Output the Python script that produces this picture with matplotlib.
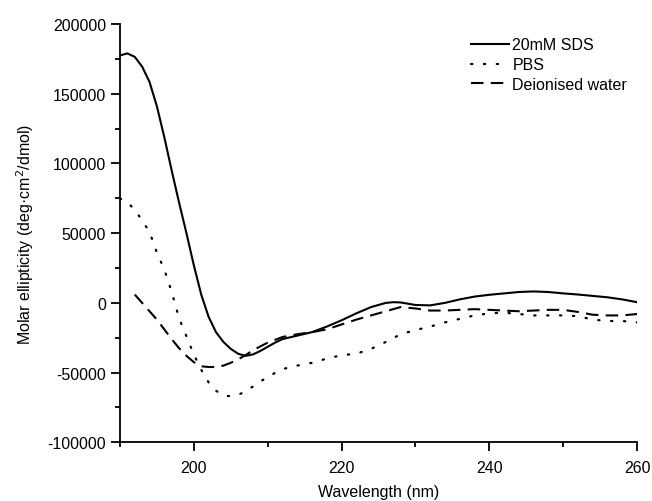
import matplotlib
matplotlib.use('Agg')
import matplotlib.pyplot as plt
from matplotlib.ticker import MultipleLocator

plt.rcParams['font.family'] = ['Liberation Sans', 'DejaVu Sans']
plt.rcParams['font.size'] = 11.5
plt.rcParams['axes.unicode_minus'] = False

# 20mM SDS
wl_sds = [190, 191, 192, 193, 194, 195, 196, 197, 198, 199, 200, 201, 202, 203,
          204, 205, 206, 207, 208, 209, 210, 211, 212, 214, 216, 218, 220, 222, 224,
          226, 227, 228, 230, 232, 234, 236, 238, 240, 242, 244, 246, 248, 250, 252,
          254, 256, 258, 260]
sds = [177500, 179000, 176500, 169500, 158500, 141000, 119000, 95000, 72000,
       50000, 27000, 6000, -10000, -21000, -28000, -33000, -36500, -38000, -37000,
       -34500, -31500, -28500, -26000, -23500, -21000, -17000, -12500, -7500, -3000,
       0, 500, 300, -1500, -1800, 0, 2500, 4500, 5800, 6800, 7800, 8200, 7800, 6800,
       6000, 5000, 4000, 2500, 500]

# PBS
wl_pbs = [190, 191, 192, 193, 194, 195, 196, 197, 198, 199, 200, 201, 202, 203, 204,
          205, 206, 207, 208, 209, 210, 212, 214, 216, 218, 220, 222, 224, 226, 228,
          230, 232, 234, 236, 238, 240, 242, 244, 246, 248, 250, 252, 254, 256, 258, 260]
pbs = [75000, 72000, 67000, 59000, 51000, 36000, 24000, 8000, -11000, -24000, -37000,
       -48000, -57000, -63000, -66500, -67000, -66000, -63500, -60000, -56500, -53000,
       -47500, -45000, -43000, -40000, -37500, -36500, -33000, -28000, -22500, -19500,
       -17000, -14000, -11500, -9000, -7500, -7000, -8000, -9000, -9000, -9000, -9500,
       -12000, -13000, -13000, -14000]

# Deionised water
wl_water = [192, 193, 194, 195, 196, 197, 198, 199, 200, 201, 202, 203, 204, 205, 206,
            207, 208, 210, 212, 214, 216, 218, 220, 222, 224, 226, 228, 230, 232, 234,
            236, 238, 240, 242, 244, 246, 248, 250, 252, 254, 256, 258, 260]
water = [6000, 0, -6000, -12000, -19000, -26000, -32500, -38000, -42500, -45500, -46000,
         -46000, -45000, -43000, -40500, -37500, -34000, -28500, -24500, -22500, -21000,
         -19000, -15500, -12000, -9000, -6000, -3000, -4000, -5500, -5500, -5000, -4500,
         -5000, -5500, -6000, -5500, -5000, -5000, -6500, -8500, -9000, -9000, -8000]

fig = plt.figure(figsize=(6.52, 5.02), dpi=100)
ax = fig.add_axes([0.184, 0.117, 0.793, 0.833])

ax.plot(wl_sds, sds, color='black', lw=1.5, label='20mM SDS')
ax.plot(wl_pbs, pbs, color='black', lw=1.6, linestyle=(0, (0.6, 5.2)),
        dash_capstyle='round', label='PBS')
ax.plot(wl_water, water, color='black', lw=1.5, linestyle=(0, (6, 3.5)),
        label='Deionised water')

ax.set_xlim(190, 260)
ax.set_ylim(-100000, 200000)
ax.set_xticks([200, 220, 240, 260])
ax.xaxis.set_minor_locator(MultipleLocator(10))
ax.yaxis.set_major_locator(MultipleLocator(50000))
ax.yaxis.set_minor_locator(MultipleLocator(25000))

for side in ['top', 'right']:
    ax.spines[side].set_visible(False)
for side in ['left', 'bottom']:
    ax.spines[side].set_linewidth(1.3)

ax.tick_params(which='major', direction='out', length=6.5, width=1.3, labelsize=11.5)
ax.tick_params(axis='x', which='major', pad=6)
ax.tick_params(which='minor', direction='out', length=3.5, width=1.3)

ax.set_xlabel('Wavelength (nm)', fontsize=11.5, labelpad=7)
ax.set_ylabel('Molar ellipticity (deg\u00b7cm$^2$/dmol)', fontsize=11.5, labelpad=8)

ax.legend(loc='upper left', bbox_to_anchor=(0.7, 0.952), bbox_transform=fig.transFigure,
          frameon=False, handlelength=2.4, handletextpad=0.2, labelspacing=0.3,
          fontsize=11.5)

fig.savefig('out.png', dpi=100)
